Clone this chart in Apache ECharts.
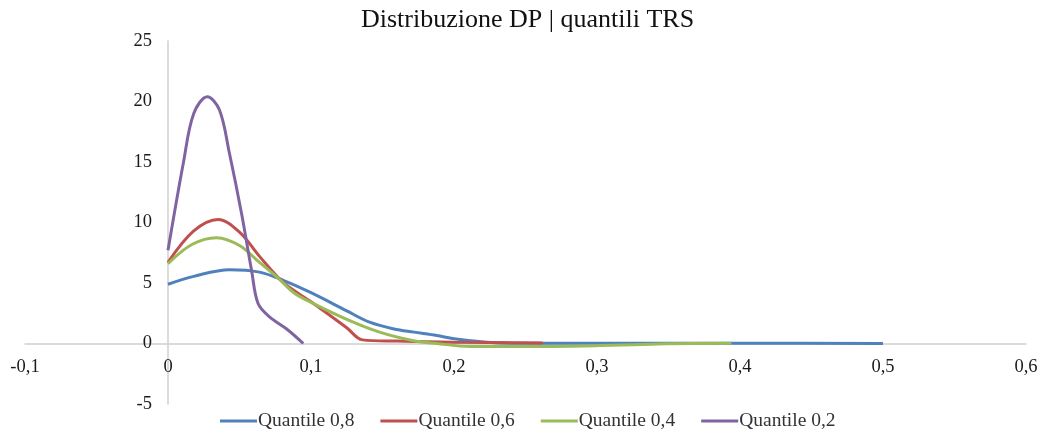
<!DOCTYPE html>
<html>
<head>
<meta charset="utf-8">
<script src="https://cdn.jsdelivr.net/npm/echarts@6/dist/echarts.min.js"></script>
<style>html,body{margin:0;padding:0;background:#fff;}#c{width:1045px;height:439px;}</style>
</head>
<body>
<div id="c"></div>
<script>
const titleText = 'Distribuzione DP | quantili TRS';
const seriesNames = ['Quantile 0,8', 'Quantile 0,6', 'Quantile 0,4', 'Quantile 0,2'];
const q08 = [[0,4.9],[0.018,5.55],[0.043,6.1],[0.064,5.9],[0.081,5.2],[0.1,4.2],[0.125,2.7],[0.141,1.76],[0.158,1.2],[0.172,0.94],[0.188,0.66],[0.2,0.4],[0.223,0.1],[0.24,0.02],[0.3,0.02],[0.4,0.02],[0.5,0.0]];
const q06 = [[0,6.7],[0.018,9.3],[0.035,10.25],[0.05,9.2],[0.064,7.2],[0.081,5.0],[0.1,3.45],[0.125,1.3],[0.136,0.3],[0.16,0.2],[0.2,0.1],[0.262,0.05]];
const q04 = [[0,6.6],[0.017,8.2],[0.034,8.75],[0.05,8.1],[0.064,6.7],[0.078,5.3],[0.088,4.2],[0.1,3.4],[0.125,2.0],[0.148,0.94],[0.171,0.25],[0.188,0.0],[0.211,-0.25],[0.246,-0.25],[0.302,-0.17],[0.349,-0.03],[0.394,0.02]];
const q02 = [[0,7.7],[0.0107,14.9],[0.018,19.0],[0.0275,20.4],[0.036,19.3],[0.043,15.7],[0.0515,10.7],[0.0585,6.0],[0.063,3.3],[0.071,2.2],[0.083,1.2],[0.0946,0]];
const xTicks = {min: -0.1, max: 0.6, interval: 0.1};
const yTicks = {min: -5, max: 25, interval: 5};
const colors = ['#4F81BD', '#C0504D', '#9BBB59', '#8064A2'];

const fmt = v => String(+Number(v).toFixed(2)).replace('.', ',');
const serif = '"Liberation Serif", "Times New Roman", serif';
const chart = echarts.init(document.getElementById('c'));
const datasets = [q08, q06, q04, q02];
const H = 439;
const gridBox = {left: 25, right: 19, top: 41, bottom: 35};
// zero crossing in pixels, from the axis ranges and the plot box
const zeroX = gridBox.left + (0 - xTicks.min) / (xTicks.max - xTicks.min) * (1045 - gridBox.left - gridBox.right);
const zeroY = gridBox.top + (yTicks.max - 0) / (yTicks.max - yTicks.min) * (H - gridBox.top - gridBox.bottom);
const hidden = {show: false};
const noLabelAxis = (extra) => Object.assign({
  axisTick: hidden, splitLine: hidden, axisLabel: hidden
}, extra);
const labelStyle = {formatter: fmt, fontFamily: serif, fontSize: 18.5, color: '#1a1a1a'};
chart.setOption({
  animation: false,
  color: colors,
  title: {
    text: titleText, left: 356, top: 2,
    textStyle: {fontFamily: serif, fontSize: 26, fontWeight: 'normal', color: '#111'}
  },
  legend: {
    bottom: 3, left: 215, itemWidth: 37, itemHeight: 3, itemGap: 26,
    icon: 'rect',
    textStyle: {fontFamily: serif, fontSize: 19.5, color: '#333', padding: [0,0,0,-4]},
    data: seriesNames
  },
  grid: [
    // main plot
    Object.assign({containLabel: false, outerBoundsMode: 'none'}, gridBox),
    // carries the x tick labels under the zero line
    {left: gridBox.left, right: gridBox.right, top: gridBox.top, bottom: H - zeroY, containLabel: false, outerBoundsMode: 'none'},
    // carries the y tick labels left of the zero line
    {left: zeroX, right: gridBox.right, top: gridBox.top, bottom: gridBox.bottom, containLabel: false, outerBoundsMode: 'none'}
  ],
  xAxis: [
    noLabelAxis({gridIndex: 0, type: 'value', min: xTicks.min, max: xTicks.max, interval: xTicks.interval,
      axisLine: {onZero: true, lineStyle: {color: '#d0d0d0', width: 1.5}}}),
    {gridIndex: 1, type: 'value', min: xTicks.min, max: xTicks.max, interval: xTicks.interval,
      axisLine: hidden, axisTick: hidden, splitLine: hidden,
      axisLabel: Object.assign({margin: 14}, labelStyle)},
    noLabelAxis({gridIndex: 2, type: 'value', min: 0, max: 1, axisLine: hidden})
  ],
  yAxis: [
    noLabelAxis({gridIndex: 0, type: 'value', min: yTicks.min, max: yTicks.max, interval: yTicks.interval,
      axisLine: {show: true, onZero: true, lineStyle: {color: '#d0d0d0', width: 1.5}}}),
    noLabelAxis({gridIndex: 1, type: 'value', min: 0, max: 1, axisLine: hidden}),
    {gridIndex: 2, type: 'value', min: yTicks.min, max: yTicks.max, interval: yTicks.interval,
      axisLine: hidden, axisTick: hidden, splitLine: hidden,
      axisLabel: Object.assign({margin: 16}, labelStyle)}
  ],
  series: datasets.map((d, i) => ({
    name: seriesNames[i], type: 'line', data: d, smooth: 0.35,
    xAxisIndex: 0, yAxisIndex: 0,
    symbol: 'none', showSymbol: false,
    lineStyle: {width: 3, color: colors[i]}
  }))
});
</script>
</body>
</html>
